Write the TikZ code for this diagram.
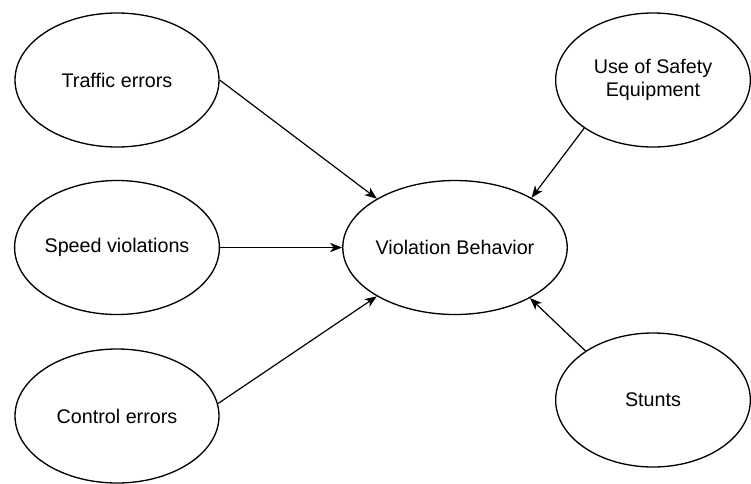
\documentclass[tikz,border=0pt]{standalone}
\usepackage{fontspec}
\setmainfont{Liberation Sans}
\usetikzlibrary{shapes.geometric,arrows.meta}
\begin{document}
\begin{tikzpicture}[x=0.75pt,y=-0.75pt,
  oval/.style={draw, ellipse, line width=1pt, minimum width=153pt, minimum height=100.5pt, inner sep=0pt, align=center, font=\fontsize{14.8pt}{17.5pt}\selectfont},
  ovalsm/.style={oval, minimum width=146pt},
  link/.style={line width=0.9pt, -{Stealth[length=9pt,width=7pt,inset=2.5pt]}}]
\useasboundingbox (0,0) rectangle (751,483);
\fill[white] (0,0) rectangle (751,483);
\node[oval] (te) at (117,80) {Traffic errors};
\node[oval] (sv) at (117,247.5) {Speed violations};
\node[oval] (ce) at (117,416) {Control errors};
\node[oval] (vb) at (455,247.5) {Violation Behavior};
\node[ovalsm] (us) at (653,80) {Use of Safety\\Equipment};
\node[ovalsm] (st) at (653,400) {Stunts};
\draw[link] (te.east) -- (vb.148);
\draw[link] (sv.east) -- (vb.west);
\draw[link] (ce.7) -- (vb.212);
\draw[link] (us.215) -- (vb.33);
\draw[link] (st.144) -- (vb.326);
\end{tikzpicture}
\end{document}
